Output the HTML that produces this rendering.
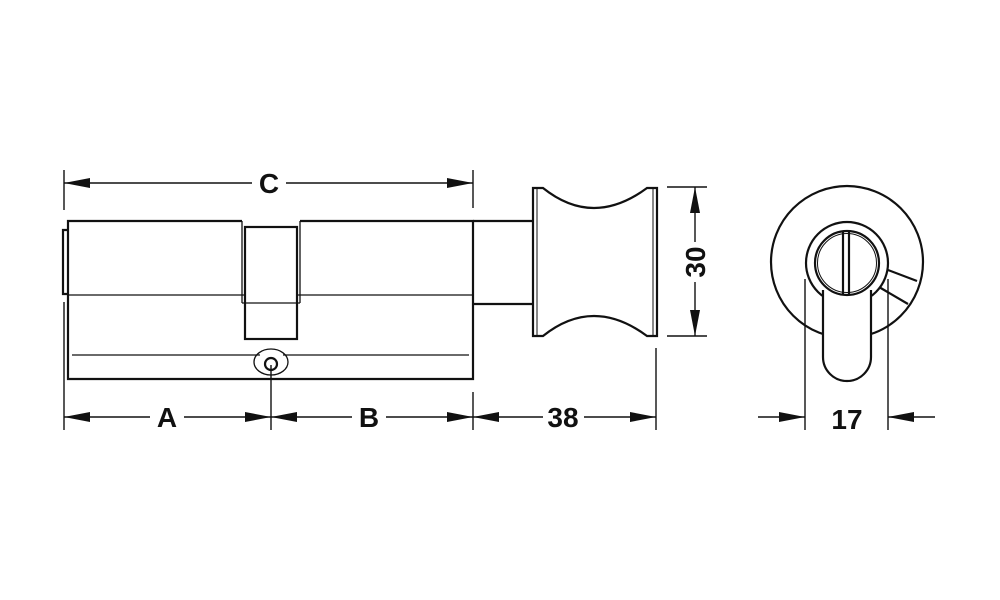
<!DOCTYPE html>
<html><head><style>body{margin:0;background:#fff}svg{display:block}text{font-family:"Liberation Sans",Arial,sans-serif;font-weight:bold;font-size:28px;fill:#111}</style></head>
<body>
<svg width="1000" height="600" viewBox="0 0 1000 600" xmlns="http://www.w3.org/2000/svg">
<defs>
<marker id="a" viewBox="0 0 26 10" refX="26" refY="5" markerWidth="26" markerHeight="10" markerUnits="userSpaceOnUse" orient="auto-start-reverse"><path d="M0,0 L26,5 L0,10z" fill="#111"/></marker>
</defs>
<g stroke="#111" fill="none">
<g stroke-width="1.4">
<line x1="64" y1="170" x2="64" y2="210"/><line x1="64" y1="302" x2="64" y2="430"/>
<line x1="473" y1="170" x2="473" y2="208"/><line x1="473" y1="392" x2="473" y2="430"/>
<line x1="271" y1="365" x2="271" y2="430"/>
<line x1="656" y1="348" x2="656" y2="430"/>
<line x1="667" y1="187" x2="707" y2="187"/><line x1="667" y1="336" x2="707" y2="336"/>
<line x1="805" y1="279" x2="805" y2="430"/><line x1="888" y1="279" x2="888" y2="430"/>
</g>
<g stroke-width="1.4">
<line x1="64" y1="183" x2="252" y2="183" marker-start="url(#a)"/>
<line x1="286" y1="183" x2="473" y2="183" marker-end="url(#a)"/>
<line x1="64" y1="417" x2="150" y2="417" marker-start="url(#a)"/>
<line x1="184" y1="417" x2="271" y2="417" marker-end="url(#a)"/>
<line x1="271" y1="417" x2="352" y2="417" marker-start="url(#a)"/>
<line x1="386" y1="417" x2="473" y2="417" marker-end="url(#a)"/>
<line x1="473" y1="417" x2="543" y2="417" marker-start="url(#a)"/>
<line x1="584" y1="417" x2="656" y2="417" marker-end="url(#a)"/>
<line x1="695" y1="187" x2="695" y2="242" marker-start="url(#a)"/>
<line x1="695" y1="282" x2="695" y2="336" marker-end="url(#a)"/>
<line x1="758" y1="417" x2="805" y2="417" marker-end="url(#a)"/>
<line x1="935" y1="417" x2="888" y2="417" marker-end="url(#a)"/>
</g>
<g stroke-width="2.2">
<path d="M242,221 H68 V379 H473 V221 H300"/>
<path d="M68,230 H63 V294 H68"/>
<rect x="245" y="227" width="52" height="112"/>
</g>
<g stroke-width="1.3">
<line x1="68" y1="295" x2="245" y2="295"/><line x1="297" y1="295" x2="473" y2="295"/>
<line x1="242" y1="221" x2="242" y2="303"/><line x1="300" y1="221" x2="300" y2="303"/>
<line x1="242" y1="303" x2="300" y2="303"/>
<line x1="72" y1="355" x2="260" y2="355"/><line x1="283" y1="355" x2="469" y2="355"/>
<ellipse cx="271" cy="362" rx="17" ry="13"/>
</g>
<circle cx="271" cy="364" r="6" stroke-width="2.2"/>
<path d="M473,221 H533 M473,304 H533" stroke-width="2.2"/>
<path d="M533,188 H543 Q593,228 647,188 H657 V336 H647 Q593,296 543,336 H533 Z" stroke-width="2.2"/>
<line x1="537" y1="188" x2="537" y2="336" stroke-width="1"/><line x1="653" y1="188" x2="653" y2="336" stroke-width="1"/>
<circle cx="847" cy="262" r="76" stroke-width="2.2"/>
<line x1="888" y1="270" x2="917" y2="281" stroke-width="2.2"/>
<line x1="879" y1="287" x2="908" y2="304" stroke-width="2.2"/>
<circle cx="847" cy="263" r="41" stroke-width="2.2" fill="#fff"/>
<path d="M823,290 V357 A24,24 0 0 0 871,357 V290" fill="#fff" stroke-width="2.2"/>
<circle cx="847" cy="263" r="32" stroke-width="2.2"/>
<circle cx="847" cy="263" r="29.5" stroke-width="1"/>
<line x1="843" y1="231" x2="843" y2="295" stroke-width="2.2"/><line x1="849" y1="231" x2="849" y2="295" stroke-width="2.2"/>
</g>
<g text-anchor="middle">
<text x="269" y="193">C</text>
<text x="167" y="427">A</text>
<text x="369" y="427">B</text>
<text x="563" y="427">38</text>
<text x="847" y="429">17</text>
<text transform="translate(705,262) rotate(-90)">30</text>
</g>
</svg>
</body></html>
